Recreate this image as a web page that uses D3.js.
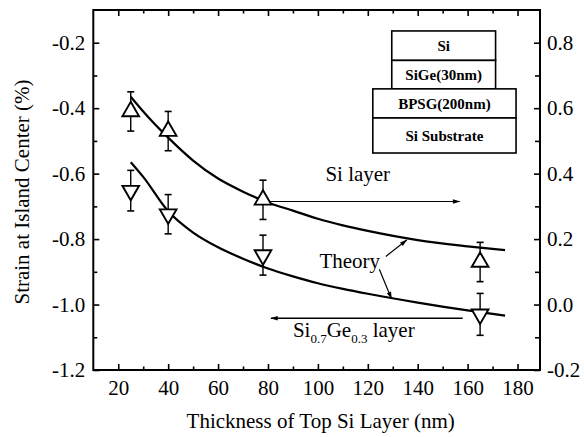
<!DOCTYPE html>
<html>
<head>
<meta charset="utf-8">
<script src="https://cdn.jsdelivr.net/npm/d3@7/dist/d3.min.js"></script>
</head>
<body style="margin:0;padding:0;background:#fff">
<svg id="chart" width="584" height="437" style="display:block"></svg>
<script>
// ---------- data ----------
const thickness = [25, 40, 78, 165];
const siStrain = [-0.41, -0.47, -0.68, -0.87];
const siErr = [0.06, 0.06, 0.06, 0.06];
const sigeStrain = [-0.652, -0.724, -0.849, -1.03];
const sigeErr = [0.062, 0.06, 0.061, 0.064];

const theoryX = [25, 30, 40, 50, 60, 70, 80, 90, 100, 110, 120, 140, 160, 175];
const theorySi = [-0.365, -0.41, -0.49, -0.56, -0.615, -0.655, -0.688, -0.713, -0.738, -0.758, -0.775, -0.803, -0.822, -0.834];
const theorySiGe = [-0.565, -0.61, -0.715, -0.78, -0.825, -0.86, -0.89, -0.914, -0.935, -0.952, -0.967, -0.994, -1.018, -1.034];

const xTicks = [20, 40, 60, 80, 100, 120, 140, 160, 180];
const xMinor = [30, 50, 70, 90, 110, 130, 150, 170];
const yTicks = [-1.2, -1.0, -0.8, -0.6, -0.4, -0.2];
const yMinor = [-1.1, -0.9, -0.7, -0.5, -0.3];
const yRTicks = [-0.2, 0.0, 0.2, 0.4, 0.6, 0.8];
const yRMinor = [-0.1, 0.1, 0.3, 0.5, 0.7];

const xLabel = "Thickness of Top Si Layer (nm)";
const yLabel = "Strain at Island Center (%)";

// inset layer stack (labels)
const stackLabels = ["Si", "SiGe(30nm)", "BPSG(200nm)", "Si Substrate"];

// ---------- layout ----------
const svg = d3.select("#chart");
const W = 584, H = 437;
const L = 93.3, R = 540, T = 10, B = 370;
const FONT = "Liberation Serif";

const x = d3.scaleLinear().domain([10, 189]).range([L, R]);
const y = d3.scaleLinear().domain([-1.2, -0.1]).range([B, T]);
const yR = d3.scaleLinear().domain([-0.2, 0.9]).range([B, T]);

svg.append("rect").attr("width", W).attr("height", H).attr("fill", "#fff");

const fmt = d => d3.format(".1f")(d).replace("\u2212", "-");
const FS = 21;

function txt(sel) {
  return sel.attr("font-family", FONT).style("font-family", `"${FONT}"`).attr("fill", "#000");
}

function styleAxis(g) {
  g.attr("font-family", FONT);
  g.select(".domain").remove();
  g.selectAll(".tick line").attr("stroke", "#000").attr("stroke-width", 1.6);
  g.selectAll(".tick text").attr("font-size", FS).call(txt);
}

// bottom
svg.append("g").attr("transform", `translate(0,${B})`)
  .call(d3.axisBottom(x).tickValues(xTicks).tickSizeInner(-6).tickSizeOuter(0).tickPadding(10).tickFormat(d3.format("d")))
  .call(styleAxis);
svg.append("g").attr("transform", `translate(0,${B})`)
  .call(d3.axisBottom(x).tickValues(xMinor).tickSizeInner(-3.5).tickSizeOuter(0).tickFormat(""))
  .call(styleAxis);
// top
svg.append("g").attr("transform", `translate(0,${T})`)
  .call(d3.axisTop(x).tickValues(xTicks).tickSizeInner(-6).tickSizeOuter(0).tickFormat(""))
  .call(styleAxis);
svg.append("g").attr("transform", `translate(0,${T})`)
  .call(d3.axisTop(x).tickValues(xMinor).tickSizeInner(-3.5).tickSizeOuter(0).tickFormat(""))
  .call(styleAxis);
// left
svg.append("g").attr("transform", `translate(${L},0)`)
  .call(d3.axisLeft(y).tickValues(yTicks).tickSizeInner(-6).tickSizeOuter(0).tickPadding(8).tickFormat(fmt))
  .call(styleAxis);
svg.append("g").attr("transform", `translate(${L},0)`)
  .call(d3.axisLeft(y).tickValues(yMinor).tickSizeInner(-4).tickSizeOuter(0).tickFormat(""))
  .call(styleAxis);
// right
svg.append("g").attr("transform", `translate(${R},0)`)
  .call(d3.axisRight(yR).tickValues(yRTicks).tickSizeInner(-6).tickSizeOuter(0).tickPadding(7).tickFormat(fmt))
  .call(styleAxis);
svg.append("g").attr("transform", `translate(${R},0)`)
  .call(d3.axisRight(yR).tickValues(yRMinor).tickSizeInner(-5).tickSizeOuter(0).tickFormat(""))
  .call(styleAxis);

// frame
svg.append("rect").attr("x", L).attr("y", T).attr("width", R - L).attr("height", B - T)
  .attr("fill", "none").attr("stroke", "#000").attr("stroke-width", 2);

// axis titles
svg.append("text").attr("x", (L + R) / 2 + 4).attr("y", 428)
  .attr("text-anchor", "middle").attr("font-size", FS).call(txt).text(xLabel);
svg.append("text").attr("transform", `translate(29,${(T + B) / 2 + 2}) rotate(-90)`)
  .attr("text-anchor", "middle").attr("font-size", FS).call(txt).text(yLabel);

// ---------- theory curves ----------
const line = d3.line().x(d => x(d[0])).y(d => y(d[1])).curve(d3.curveMonotoneX);
[theorySi, theorySiGe].forEach(arr => {
  svg.append("path").datum(theoryX.map((t, i) => [t, arr[i]]))
    .attr("d", line).attr("fill", "none").attr("stroke", "#000").attr("stroke-width", 2.2);
});

// ---------- data points ----------
function drawSeries(vals, errs, up) {
  const g = svg.append("g");
  thickness.forEach((t, i) => {
    const cx = x(t), v = vals[i], e = errs[i];
    const y0 = y(v + e), y1 = y(v - e);
    g.append("line").attr("x1", cx).attr("x2", cx).attr("y1", y0).attr("y2", y1)
      .attr("stroke", "#000").attr("stroke-width", 1.4);
    [y0, y1].forEach(yy => g.append("line").attr("x1", cx - 3.5).attr("x2", cx + 3.5)
      .attr("y1", yy).attr("y2", yy).attr("stroke", "#000").attr("stroke-width", 1.6));
    g.append("path").attr("d", d3.symbol(d3.symbolTriangle).size(120)())
      .attr("transform", `translate(${cx},${y(v)})` + (up ? "" : " rotate(180)"))
      .attr("fill", "#fff").attr("stroke", "#000").attr("stroke-width", 1.9);
  });
}
drawSeries(siStrain, siErr, true);
drawSeries(sigeStrain, sigeErr, false);

// ---------- annotations ----------
const defs = svg.append("defs");
defs.append("marker").attr("id", "arr").attr("viewBox", "0 -4 10 8")
  .attr("refX", 9).attr("refY", 0).attr("markerWidth", 9).attr("markerHeight", 6)
  .attr("markerUnits", "userSpaceOnUse").attr("orient", "auto")
  .append("path").attr("d", "M0,-3L10,0L0,3Z").attr("fill", "#000");

function arrow(x1, y1, x2, y2, w) {
  svg.append("line").attr("x1", x(x1)).attr("y1", y(y1)).attr("x2", x(x2)).attr("y2", y(y2))
    .attr("stroke", "#000").attr("stroke-width", w).attr("marker-end", "url(#arr)");
}
// Si layer -> right axis
arrow(80.6, -0.685, 156.8, -0.685, 1.1);
svg.append("text").attr("x", x(103)).attr("y", y(-0.621)).attr("font-size", FS).call(txt).text("Si layer");
// SiGe layer -> left axis
arrow(158, -1.042, 81.2, -1.042, 1.6);
const tg = svg.append("text").attr("x", x(90)).attr("y", y(-1.098)).attr("font-size", FS).call(txt);
tg.append("tspan").text("Si");
tg.append("tspan").attr("dy", 6).attr("font-size", 13).text("0.7");
tg.append("tspan").attr("dy", -6).text("Ge");
tg.append("tspan").attr("dy", 6).attr("font-size", 13).text("0.3");
tg.append("tspan").attr("dy", -6).text(" layer");
// Theory
svg.append("text").attr("x", x(100.6)).attr("y", y(-0.888)).attr("font-size", FS).call(txt).text("Theory");
arrow(127.2, -0.853, 135.6, -0.803, 1.2);
arrow(124.6, -0.892, 129.5, -0.982, 1.2);

// ---------- inset stack ----------
const boxX = [[129.6, 171.2], [129.6, 171.2], [122, 179.4], [122, 179.4]];
const boxY = [[-0.164, -0.254], [-0.254, -0.341], [-0.341, -0.430], [-0.430, -0.537]];
stackLabels.forEach((lab, i) => {
  const x0 = x(boxX[i][0]), x1 = x(boxX[i][1]);
  const y0 = y(boxY[i][0]), y1 = y(boxY[i][1]);
  svg.append("rect").attr("x", x0).attr("y", y0).attr("width", x1 - x0).attr("height", y1 - y0)
    .attr("fill", "#fff").attr("stroke", "#000").attr("stroke-width", 1.6);
  svg.append("text").attr("x", (x0 + x1) / 2).attr("y", (y0 + y1) / 2).attr("dy", "0.35em")
    .attr("text-anchor", "middle").attr("font-size", 15).attr("font-weight", "bold").call(txt).text(lab);
});
</script>
</body>
</html>
